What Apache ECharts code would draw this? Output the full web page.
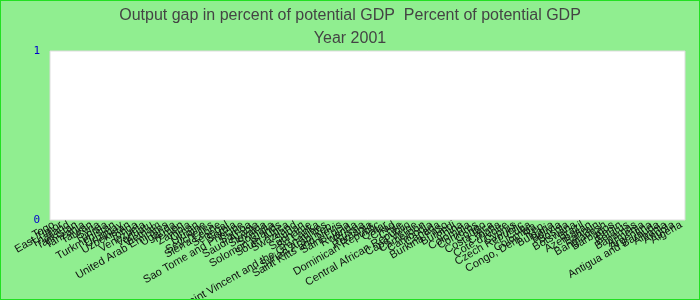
<!DOCTYPE html>
<html>
<head>
<meta charset="utf-8">
<script src="https://cdn.jsdelivr.net/npm/echarts@6/dist/echarts.min.js"></script>
<style>
html,body{margin:0;padding:0;background:#90ee90;}
#c{width:700px;height:300px;box-sizing:border-box;border:1px solid #22e022;}
</style>
</head>
<body>
<div id="c"></div>
<script>
const titleText = "Output gap in percent of potential GDP  Percent of potential GDP";
const subText = "Year 2001";
const categories = [
"Togo","East Timor","Thailand","Tajikistan","Tanzania","Taiwan","Syria","Tunisia","Turkmenistan","Uruguay",
"Uzbekistan","Tonga","Venezuela","Vanuatu","Vietnam","United Arab Emirates","Uganda","Yemen","Zambia","Oman",
"Ukraine","Seychelles","Sierra Leone","Senegal","Serbia","Sao Tome and Principe","Samoa","Saudi Arabia","Slovakia","Somalia",
"Solomon Islands","South Africa","Swaziland","Sudan","Suriname","Sri Lanka","Saint Vincent and the Grenadines","Syrian Arab Rep.","Saint Kitts and Nevis","Saint Lucia",
"Rwanda","Russia","Romania","Dominican Republic","Qatar","Chad","Chile","Central African Republic","Cape Verde","Cameroon",
"Cambodia","Canada","Burkina Faso","Burundi","China","Colombia","Comoros","Congo","Costa Rica","Croatia",
"Cote d'Ivoire","Cyprus","Czech Republic","Cuba","Colombia ","Congo, Dem. Rep.","Bulgaria","Bolivia","Bosnia","Botswana",
"Brazil","Azerbaijan","Bahrain","Bangladesh","Barbados","Benin","Belarus","Bahamas","Armenia","Argentina",
"Antigua and Barbuda","Albania","Angola","Algeria"
];
const values = categories.map(() => 0);
const yTicks = [0, 1];

const chart = echarts.init(document.getElementById('c'));
chart.setOption({
  backgroundColor: '#90ee90',
  animation: false,
  title: {
    text: titleText + "\n" + subText,
    left: 'center', top: -2,
    textStyle: {fontFamily: 'Liberation Sans', fontSize: 16, fontWeight: 'normal', color: '#444', lineHeight: 23}
  },
  grid: {left: 49, right: 14, top: 50, bottom: 79, outerBoundsMode: 'none', containLabel: false,
         show: true, backgroundColor: '#ffffff', borderColor: '#dddddd', borderWidth: 1},
  xAxis: {
    type: 'category', data: categories,
    axisLine: {show: false}, axisTick: {show: false},
    axisLabel: {interval: 0, rotate: 30, fontFamily: 'Liberation Sans', fontSize: 11, color: '#111', margin: 4}
  },
  yAxis: {
    type: 'value', min: yTicks[0], max: yTicks[yTicks.length-1], interval: 1,
    axisLine: {show: false}, axisTick: {show: false}, splitLine: {show: false},
    axisLabel: {fontFamily: 'DejaVu Sans Mono', fontSize: 11, color: '#0000cc', margin: 10}
  },
  series: [{type: 'bar', data: values, itemStyle: {color: '#4472c4'}}]
});
</script>
</body>
</html>
